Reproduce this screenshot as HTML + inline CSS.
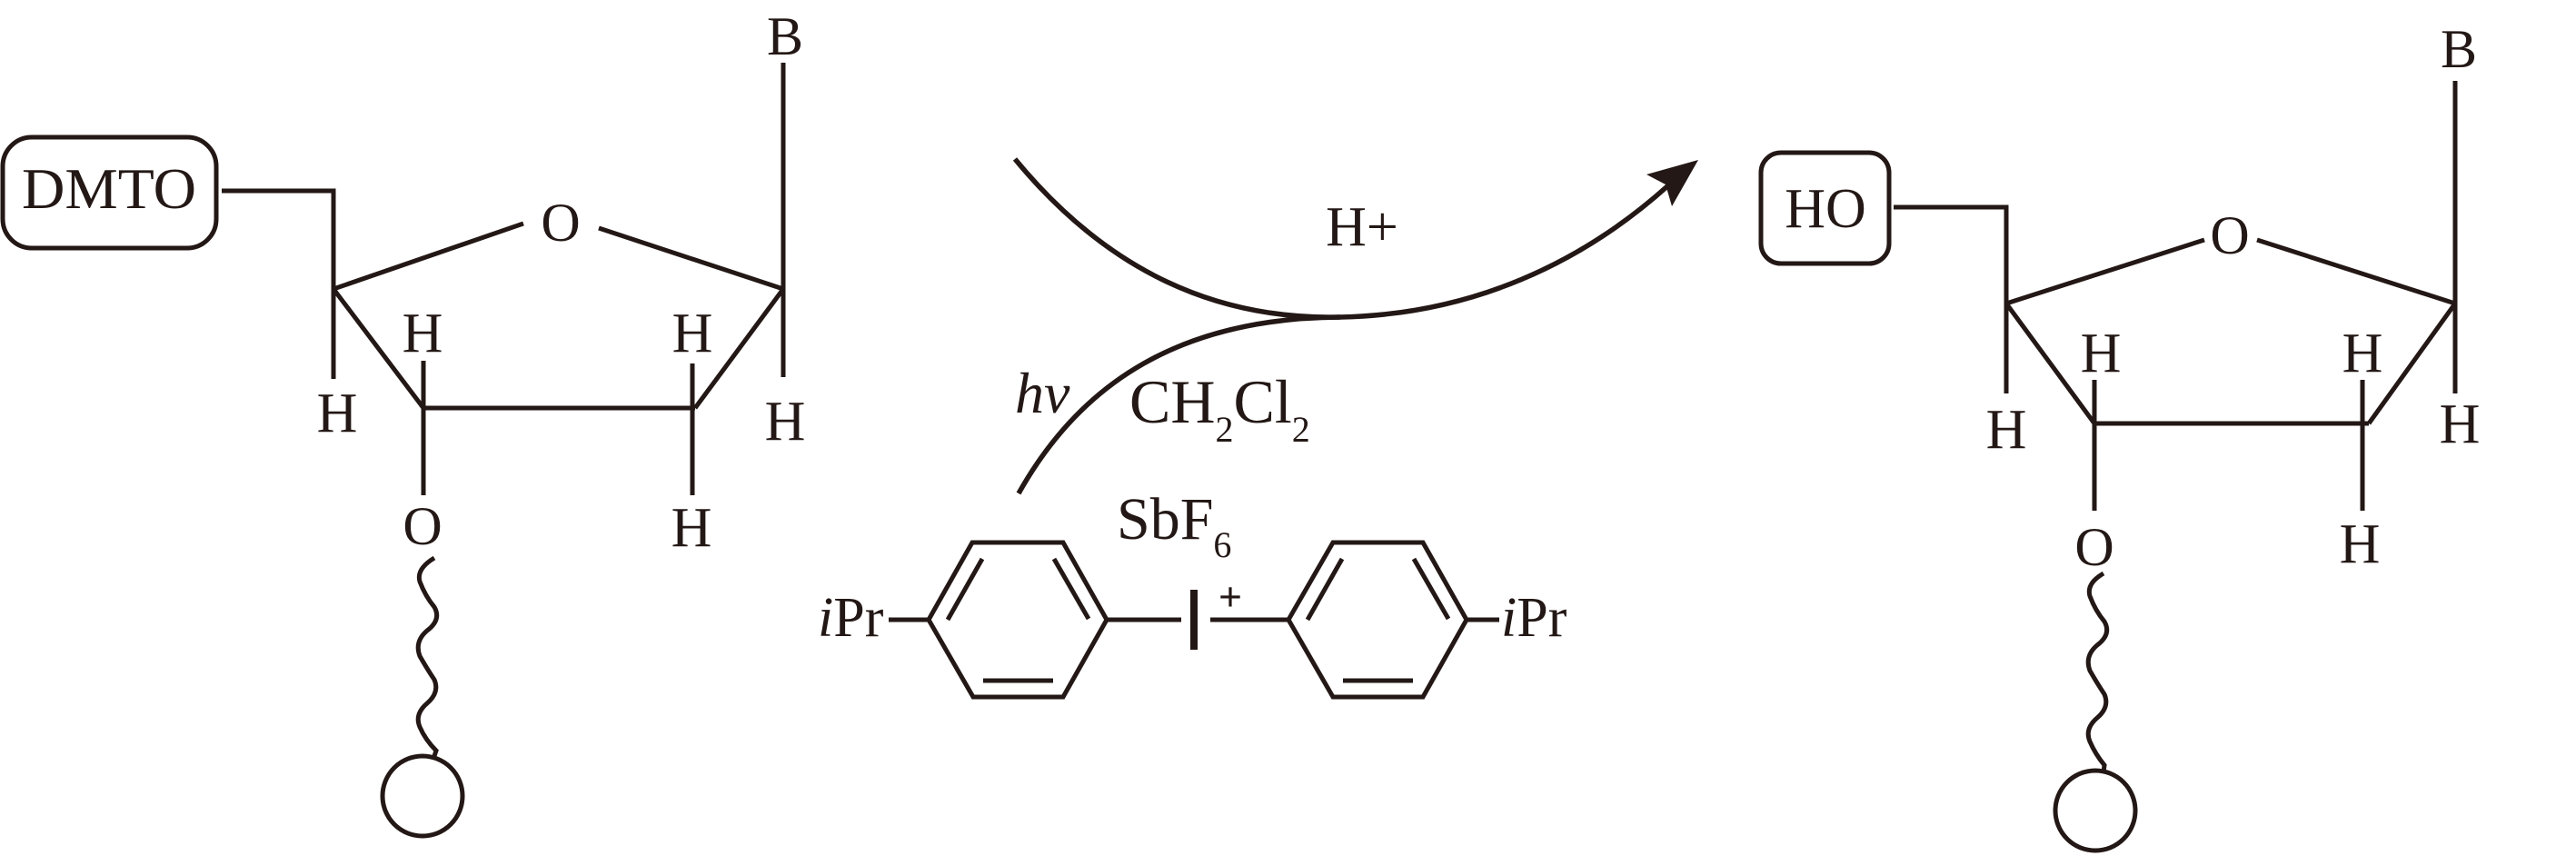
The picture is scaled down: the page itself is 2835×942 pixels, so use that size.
<!DOCTYPE html>
<html><head><meta charset="utf-8"><style>
html,body{margin:0;padding:0;background:#fff;}
svg{display:block;}
text{font-family:"Liberation Serif",serif;fill:#231815;}
</style></head><body>
<svg width="2835" height="942" viewBox="0 0 2835 942" xmlns="http://www.w3.org/2000/svg">
<g stroke="#231815" stroke-width="5" fill="none" stroke-linecap="butt">
<!-- Left molecule -->
<rect x="3" y="151" width="235" height="122" rx="32" ry="32"/>
<polyline points="244,210 367,210 367,318"/>
<line x1="367" y1="318" x2="576" y2="246"/>
<line x1="659" y1="251" x2="862" y2="318"/>
<line x1="367" y1="318" x2="466" y2="449"/>
<line x1="466" y1="449" x2="765" y2="449"/>
<line x1="765" y1="449" x2="862" y2="318"/>
<line x1="367" y1="318" x2="367" y2="417"/>
<line x1="466" y1="397" x2="466" y2="545"/>
<line x1="762" y1="400" x2="762" y2="545"/>
<line x1="862" y1="69" x2="862" y2="415"/>
<path d="M478,614 Q458,626 462,640 Q468,656 478,668 Q486,682 470,694 Q456,706 462,722 Q470,736 478,748 Q484,762 470,774 Q456,786 462,800 Q468,814 480,826 L478,832"/>
<circle cx="465" cy="876" r="44"/>
<!-- Right molecule -->
<rect x="1938" y="168" width="141" height="122" rx="22" ry="22"/>
<polyline points="2084,228 2208,228 2208,334"/>
<line x1="2208" y1="334" x2="2426" y2="264"/>
<line x1="2484" y1="264" x2="2702" y2="334"/>
<line x1="2208" y1="334" x2="2305" y2="466"/>
<line x1="2305" y1="466" x2="2607" y2="466"/>
<line x1="2607" y1="466" x2="2702" y2="334"/>
<line x1="2208" y1="334" x2="2208" y2="433"/>
<line x1="2305" y1="418" x2="2305" y2="562"/>
<line x1="2600" y1="418" x2="2600" y2="562"/>
<line x1="2702" y1="89" x2="2702" y2="433"/>
<path d="M2315,631 Q2296,642 2300,656 Q2306,672 2316,684 Q2324,698 2308,710 Q2294,722 2300,738 Q2308,752 2316,764 Q2322,778 2308,790 Q2294,802 2300,816 Q2306,830 2316,842 L2315,850"/>
<circle cx="2306" cy="892" r="44"/>
<!-- Arrow curves -->
<path d="M1117,175 C1220,300 1340,352 1475,349 C1620,346 1740,290 1835,205" stroke-width="5.5"/>
<path d="M1121,543 C1190,420 1300,350 1475,349" stroke-width="5.5"/>
<!-- Benzene rings -->
<polygon points="1022,682 1070,597 1170,597 1218,682 1170,767 1071,767"/>
<line x1="1081" y1="615" x2="1043" y2="682"/>
<line x1="1160" y1="615" x2="1198" y2="681"/>
<line x1="1082" y1="749" x2="1159" y2="749"/>
<polygon points="1418,682 1467,597 1566,597 1614,682 1566,767 1467,767"/>
<line x1="1477" y1="615" x2="1439" y2="682"/>
<line x1="1556" y1="615" x2="1594" y2="681"/>
<line x1="1478" y1="749" x2="1555" y2="749"/>
<line x1="978" y1="682" x2="1022" y2="682"/>
<line x1="1218" y1="682" x2="1300" y2="682"/>
<line x1="1332" y1="682" x2="1418" y2="682"/>
<line x1="1614" y1="682" x2="1650" y2="682"/>
<line x1="1314" y1="649" x2="1314" y2="715" stroke-width="8"/>
</g>
<polygon points="1869,176 1812,192 1833,203 1840,227" fill="#231815"/>
<!-- Left labels -->
<text x="120" y="229" font-size="64" text-anchor="middle" textLength="192" lengthAdjust="spacingAndGlyphs">DMTO</text>
<text x="617" y="265" font-size="60" text-anchor="middle">O</text>
<text x="864" y="60" font-size="60" text-anchor="middle">B</text>
<text x="371" y="475" font-size="62" text-anchor="middle">H</text>
<text x="465" y="387" font-size="62" text-anchor="middle">H</text>
<text x="762" y="387" font-size="62" text-anchor="middle">H</text>
<text x="864" y="484" font-size="62" text-anchor="middle">H</text>
<text x="761" y="601" font-size="62" text-anchor="middle">H</text>
<text x="465" y="599" font-size="60" text-anchor="middle">O</text>
<!-- Right labels -->
<text x="2009" y="250" font-size="62" text-anchor="middle">HO</text>
<text x="2454" y="279" font-size="60" text-anchor="middle">O</text>
<text x="2706" y="74" font-size="60" text-anchor="middle">B</text>
<text x="2208" y="493" font-size="62" text-anchor="middle">H</text>
<text x="2312" y="409" font-size="62" text-anchor="middle">H</text>
<text x="2600" y="409" font-size="62" text-anchor="middle">H</text>
<text x="2707" y="487" font-size="62" text-anchor="middle">H</text>
<text x="2597" y="619" font-size="62" text-anchor="middle">H</text>
<text x="2305" y="622" font-size="60" text-anchor="middle">O</text>
<!-- Reaction labels -->
<text x="1499" y="270" font-size="62" text-anchor="middle">H+</text>
<text x="1117" y="454" font-size="64" font-style="italic">hv</text>
<text x="1243" y="465" font-size="68">CH<tspan font-size="40" dy="21">2</tspan><tspan dy="-21">Cl</tspan><tspan font-size="40" dy="21">2</tspan></text>
<text x="1229" y="593" font-size="66">SbF<tspan font-size="40" dy="20">6</tspan></text>
<text x="1354" y="672" font-size="46" text-anchor="middle" font-weight="bold">+</text>
<text x="900" y="700" font-size="62"><tspan font-style="italic">i</tspan>Pr</text>
<text x="1652" y="700" font-size="62"><tspan font-style="italic">i</tspan>Pr</text>
</svg>
</body></html>
